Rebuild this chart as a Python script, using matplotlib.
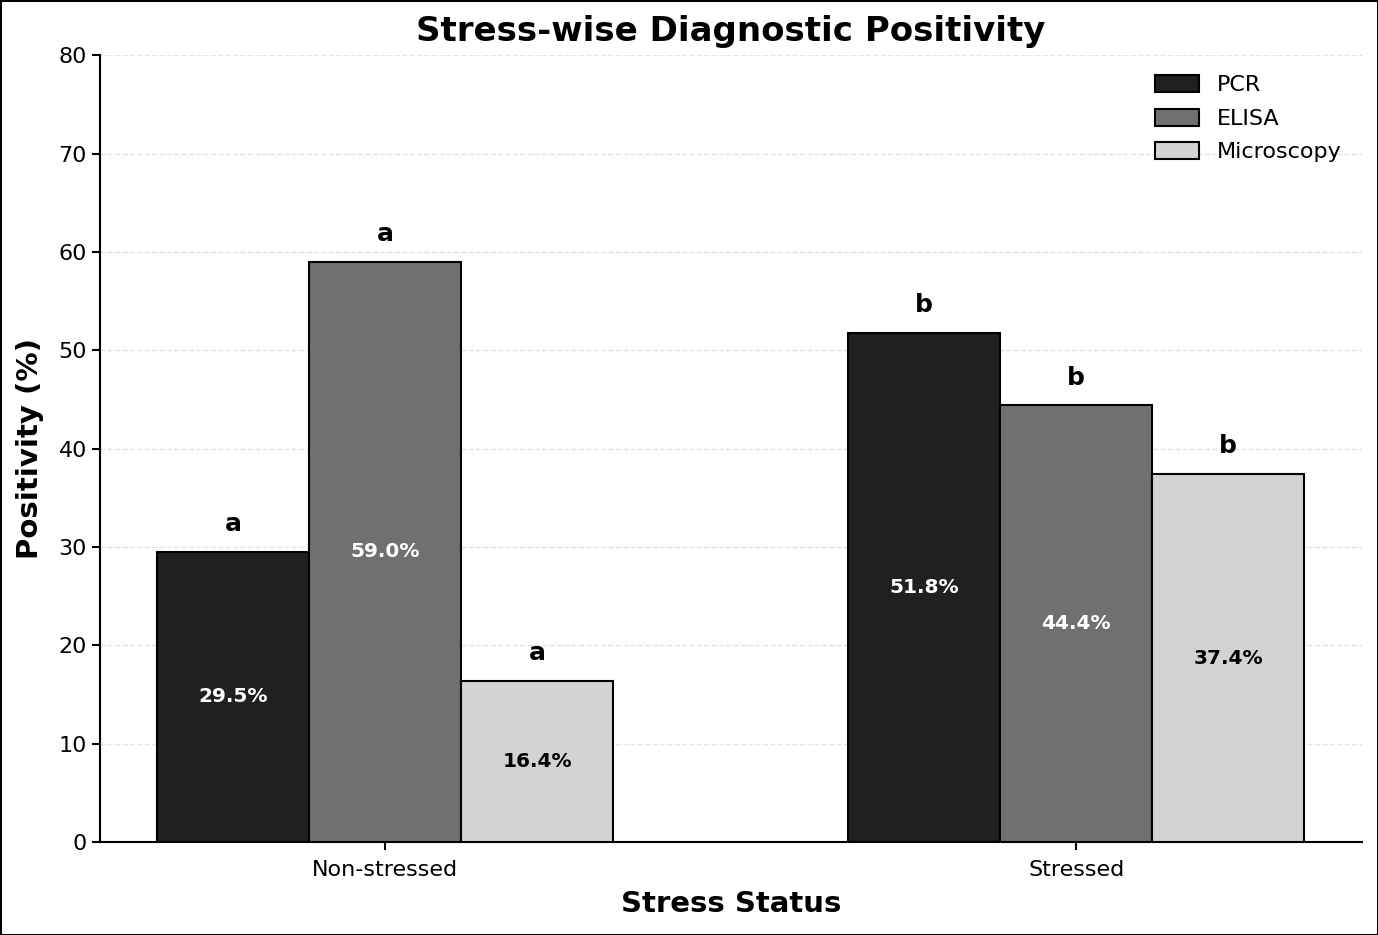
import matplotlib
matplotlib.use("Agg")
import matplotlib.pyplot as plt
import numpy as np

groups = ["Non-stressed", "Stressed"]
methods = ["PCR", "ELISA", "Microscopy"]
pcr = [29.5, 51.8]
elisa = [59.0, 44.4]
microscopy = [16.4, 37.4]
letters_pcr = ["a", "b"]
letters_elisa = ["a", "b"]
letters_micro = ["a", "b"]

colors = ["#1f2120", "#707070", "#d3d3d3"]
text_colors = ["white", "white", "black"]

fig = plt.figure(figsize=(13.78, 9.35), dpi=100)
ax = fig.add_axes([0.0726, 0.0995, 0.9155, 0.8415])

x = np.arange(len(groups))
width = 0.22
series = [pcr, elisa, microscopy]
letters = [letters_pcr, letters_elisa, letters_micro]

for i, (vals, lab) in enumerate(zip(series, methods)):
    pos = x + (i - 1) * width
    bars = ax.bar(pos, vals, width, color=colors[i], edgecolor="black",
                  linewidth=1.5, label=lab, zorder=3)
    for b, v, l in zip(bars, vals, letters[i]):
        cx = b.get_x() + b.get_width() / 2
        ax.text(cx, v / 2, f"{v:.1f}%", ha="center", va="center",
                fontsize=14.5, fontweight="bold", color=text_colors[i], zorder=4)
        ax.text(cx, v + 1.6, l, ha="center", va="bottom",
                fontsize=18, fontweight="bold", color="black", zorder=4)

ax.set_ylim(0, 80)
ax.set_xticks(x)
ax.set_xticklabels(groups)
ax.tick_params(axis="both", labelsize=16, width=1.5, length=6)
ax.tick_params(axis="x", pad=7)
ax.set_xlabel("Stress Status", fontsize=21, fontweight="bold", labelpad=7)
ax.set_ylabel("Positivity (%)", fontsize=21, fontweight="bold", labelpad=10)
ax.set_title("Stress-wise Diagnostic Positivity", fontsize=24.5, fontweight="bold", pad=10)
ax.yaxis.grid(True, linestyle="--", color="#e3e3e3", linewidth=1, zorder=0)
ax.spines["top"].set_visible(False)
ax.spines["right"].set_visible(False)
ax.spines["left"].set_linewidth(1.5)
ax.spines["bottom"].set_linewidth(1.5)
ax.legend(frameon=False, fontsize=16, loc="upper right", handleheight=0.8,
          labelspacing=0.6)

fig.patch.set_edgecolor("black")
fig.patch.set_linewidth(2)

fig.savefig("out.png", dpi=100, edgecolor=fig.get_edgecolor())
